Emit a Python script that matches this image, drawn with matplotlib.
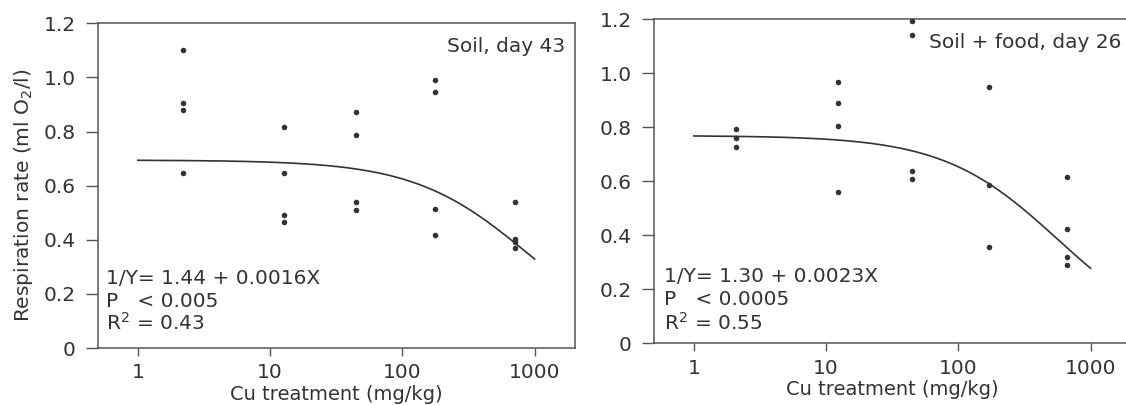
import numpy as np
import matplotlib
matplotlib.use("Agg")
import matplotlib.pyplot as plt
from matplotlib.ticker import FixedLocator, FixedFormatter, NullLocator

plt.rcParams['font.family'] = ['DejaVu Sans']
plt.rcParams['mathtext.fontset'] = 'dejavusans'

# ---- data ----
soil_x = [2.2, 2.2, 2.2, 2.2,
          12.7, 12.7, 12.7, 12.7,
          45, 45, 45, 45,
          176, 176, 176, 176,
          707, 707, 707, 707]
soil_y = [1.10, 0.905, 0.878, 0.645,
          0.816, 0.645, 0.492, 0.465,
          0.873, 0.789, 0.541, 0.511,
          0.992, 0.947, 0.514, 0.416,
          0.538, 0.402, 0.392, 0.369]

food_x = [2.1, 2.1, 2.1,
          12.2, 12.2, 12.2, 12.2,
          45, 45, 45, 45,
          172, 172, 172,
          665, 665, 665, 665]
food_y = [0.795, 0.760, 0.727,
          0.969, 0.889, 0.804, 0.560,
          1.195, 1.143, 0.640, 0.610,
          0.948, 0.585, 0.357,
          0.616, 0.425, 0.320, 0.290]

# fitted model 1/Y = a + b*X, as printed on each panel
fit_a = [1.44, 1.30]
fit_b = [0.0016, 0.0023]
fit_range = [1, 1000]

panel_titles = ["Soil, day 43", "Soil + food, day 26"]
eq_lines = [["1/Y= 1.44 + 0.0016X", "P   < 0.005", r"R$^2$ = 0.43"],
            ["1/Y= 1.30 + 0.0023X", "P   < 0.0005", r"R$^2$ = 0.55"]]

x_ticks = [1, 10, 100, 1000]
x_tick_labels = ["1", "10", "100", "1000"]
y_ticks = [0, 0.2, 0.4, 0.6, 0.8, 1.0, 1.2]
y_tick_labels = ["0", "0.2", "0.4", "0.6", "0.8", "1.0", "1.2"]

xlabel = "Cu treatment (mg/kg)"
ylabel = r"Respiration rate (ml O$_2$/l)"

# ---- figure ----
W, H = 1126, 405
fig = plt.figure(figsize=(W / 100, H / 100), dpi=100)

ink = "#333333"
spine_c = "#555555"
fs = 14.5

positions = [
    [98 / W, (H - 348) / H, 477 / W, 324.7 / H],
    [654 / W, (H - 343.3) / H, 477 / W, 324 / H],
]
text_pos = [
    {"title": (0.979, 0.9125), "eq_x": 0.017, "eq_y": [0.198, 0.126, 0.055]},
    {"title": (0.9805, 0.910), "eq_x": 0.020, "eq_y": [0.190, 0.118, 0.043]},
]
datasets = [(soil_x, soil_y), (food_x, food_y)]

for i in range(2):
    ax = fig.add_axes(positions[i])
    ax.set_xscale('log')
    ax.set_xlim(0.5, 2020)
    ax.set_ylim(0, 1.2)

    xs, ys = datasets[i]
    ax.plot(xs, ys, linestyle='none', marker='o', ms=4, color=ink,
            markeredgewidth=0, clip_on=False, zorder=3)

    xf = np.logspace(np.log10(fit_range[0]), np.log10(fit_range[1]), 200)
    yf = 1.0 / (fit_a[i] + fit_b[i] * xf)
    ax.plot(xf, yf, color=ink, lw=1.2, zorder=2)

    ax.xaxis.set_major_locator(FixedLocator(x_ticks))
    ax.xaxis.set_major_formatter(FixedFormatter(x_tick_labels))
    ax.xaxis.set_minor_locator(NullLocator())
    ax.yaxis.set_major_locator(FixedLocator(y_ticks))
    ax.yaxis.set_major_formatter(FixedFormatter(y_tick_labels))

    ax.tick_params(axis='y', direction='out', length=8.6, width=1.0,
                   color=spine_c, labelsize=fs, labelcolor=ink, pad=7.5)
    ax.tick_params(axis='x', direction='out', length=6, width=1.0,
                   color=spine_c, labelsize=fs, labelcolor=ink, pad=5)
    for s in ax.spines.values():
        s.set_color(spine_c)
        s.set_linewidth(1.1)

    ax.set_xlabel(xlabel, fontsize=14, color=ink, labelpad=2)
    if i == 0:
        ax.set_ylabel(ylabel, fontsize=fs, color=ink, va='center')
        ax.yaxis.set_label_coords(-0.157, 0.47)

    tx, ty = text_pos[i]["title"]
    ax.text(tx, ty, panel_titles[i], transform=ax.transAxes, ha='right',
            va='baseline', fontsize=fs, color=ink)
    for line, yy in zip(eq_lines[i], text_pos[i]["eq_y"]):
        ax.text(text_pos[i]["eq_x"], yy, line, transform=ax.transAxes,
                ha='left', va='baseline', fontsize=fs, color=ink)

fig.savefig("out.png", dpi=100)
